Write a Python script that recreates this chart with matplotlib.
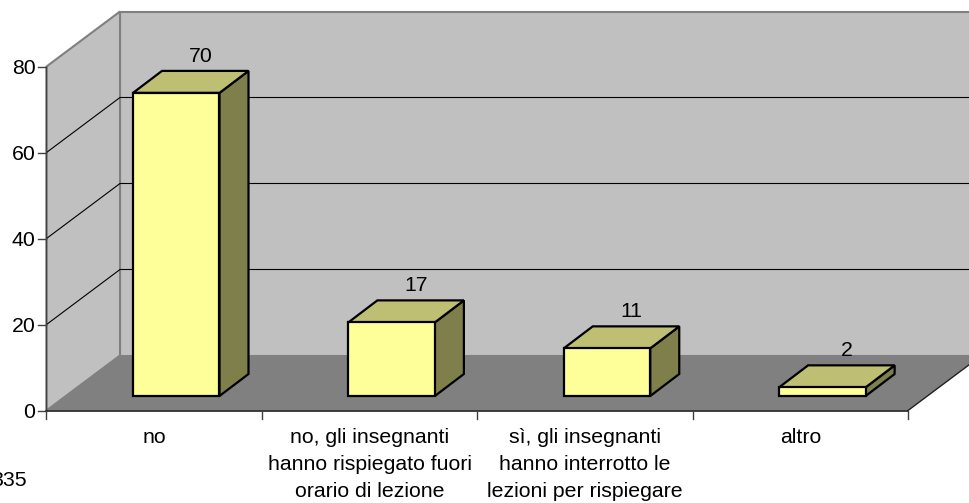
import matplotlib
matplotlib.use("Agg")
import matplotlib.pyplot as plt
from matplotlib.patches import Polygon

plt.rcParams['font.family'] = ['Liberation Sans', 'DejaVu Sans']

categories = ["no",
              "no, gli insegnanti\nhanno rispiegato fuori\norario di lezione",
              "sì, gli insegnanti\nhanno interrotto le\nlezioni per rispiegare",
              "altro"]
values = [70, 17, 11, 2]
y_ticks = [0, 20, 40, 60, 80]
note = "335"

# plot box, in pixels of the 969x503 image
X0, X1, Y0 = 46.5, 908, 410.5
UNIT = 4.3
BAR_UNIT = 4.33
DX, DY = 73.5, -55
BAR_DX, BAR_DY = 29, -22
BAR_W = 86.5
BAR_BASE = 396
BAR_SHIFT = 86.5  # left edge of a bar from the start of its category

WALL = "#C0C0C0"
FLOOR = "#808080"
FRONT = "#FFFF99"
TOP = "#BFBF73"
SIDE = "#7F7F4C"
FS = 15.3

fig = plt.figure(figsize=(9.69, 5.03), dpi=100)
ax = fig.add_axes([0, 0, 1, 1])
ax.set_xlim(0, 969)
ax.set_ylim(503, 0)
ax.axis("off")


def val_y(v):
    return Y0 - v * UNIT


top_v = y_ticks[-1]
# walls and floor
ax.add_patch(Polygon([(X0 + DX, val_y(0) + DY), (X1 + DX, val_y(0) + DY),
                      (X1 + DX, val_y(top_v) + DY), (X0 + DX, val_y(top_v) + DY)],
                     fc=WALL, ec=FLOOR, lw=1.5, zorder=1))
ax.add_patch(Polygon([(X0, val_y(0)), (X0 + DX, val_y(0) + DY),
                      (X0 + DX, val_y(top_v) + DY), (X0, val_y(top_v))],
                     fc=WALL, ec=FLOOR, lw=1.5, zorder=1))
ax.add_patch(Polygon([(X0, Y0), (X1, Y0), (X1 + DX, Y0 + DY), (X0 + DX, Y0 + DY)],
                     fc=FLOOR, ec="none", zorder=2))

# gridlines on both walls
for v in y_ticks[1:-1]:
    ax.plot([X0, X0 + DX, X1 + DX], [val_y(v), val_y(v) + DY, val_y(v) + DY],
            color="black", lw=0.8, zorder=3)

# axis lines, ticks, tick labels
ax.plot([X0, X0], [val_y(top_v), Y0], color="#404040", lw=1, zorder=4)
ax.plot([X0, X1], [Y0, Y0], color="#202020", lw=1.2, zorder=4)
ax.plot([X1, X1 + DX], [Y0, Y0 + DY], color="#202020", lw=1, zorder=4)
for v in y_ticks:
    ax.plot([X0 - 8, X0], [val_y(v), val_y(v)], color="#404040", lw=1, zorder=4)
    ax.text(X0 - 11, val_y(v), str(v), ha="right", va="center_baseline",
            fontsize=FS, color="black")

cat_w = (X1 - X0) / len(categories)
for i in range(len(categories) + 1):
    x = X0 + i * cat_w
    ax.plot([x, x], [Y0, Y0 + 8], color="#404040", lw=1, zorder=4)

for i, (c, v) in enumerate(zip(categories, values)):
    ax.text(X0 + (i + 0.5) * cat_w, 428, c, ha="center", va="top",
            fontsize=FS, linespacing=1.53, color="black")
    # bar
    x = X0 + i * cat_w + BAR_SHIFT
    y = BAR_BASE - v * BAR_UNIT
    style = dict(ec="black", lw=1.6, joinstyle="miter", zorder=5)
    ax.add_patch(Polygon([(x + BAR_W, BAR_BASE), (x + BAR_W + BAR_DX, BAR_BASE + BAR_DY),
                          (x + BAR_W + BAR_DX, y + BAR_DY), (x + BAR_W, y)], fc=SIDE, **style))
    ax.add_patch(Polygon([(x, y), (x + BAR_W, y), (x + BAR_W + BAR_DX, y + BAR_DY),
                          (x + BAR_DX, y + BAR_DY)], fc=TOP, **style))
    ax.add_patch(Polygon([(x, BAR_BASE), (x + BAR_W, BAR_BASE), (x + BAR_W, y), (x, y)],
                         fc=FRONT, **style))
    ax.text(x + (BAR_W + BAR_DX) / 2 + 10, y + BAR_DY - 5, str(v), ha="center", va="bottom",
            fontsize=FS, color="black", zorder=6)

# cut off by the left edge in the reference too
ax.text(27, 478, note, ha="right", va="center_baseline", fontsize=FS, color="black")

fig.savefig("out.png", dpi=100)
